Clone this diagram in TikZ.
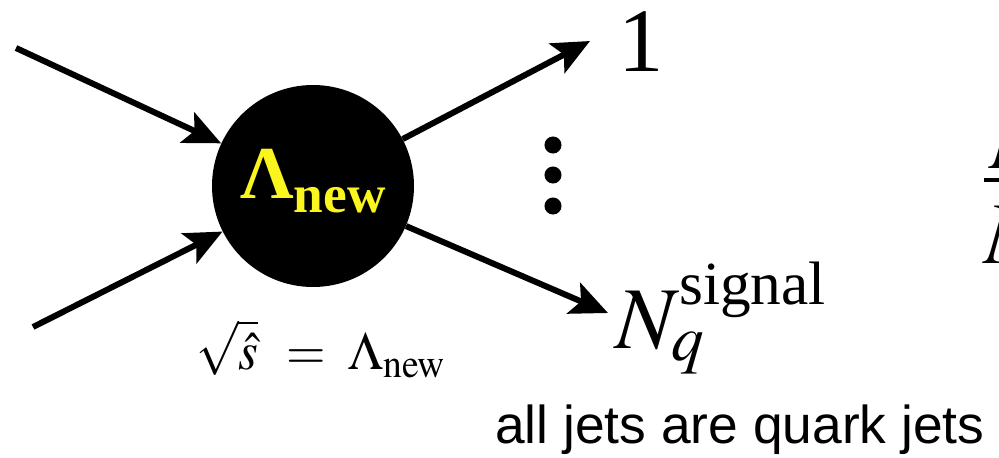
\documentclass[tikz,border=0pt]{standalone}
\usepackage{mathptmx}
\usepackage[no-math]{fontspec}
\setmainfont{Liberation Serif}
\setsansfont{Liberation Sans}
\usetikzlibrary{arrows.meta}
\definecolor{lamyellow}{RGB}{250,245,30}
\tikzset{
  arr/.style={line width=4.5pt, -{Stealth[length=28pt,width=25pt,inset=6pt]}},
  big/.style={inner sep=0pt, font=\fontsize{66}{70}\selectfont},
}

\begin{document}
\begin{tikzpicture}[x=0.75pt,y=-0.75pt]
  \useasboundingbox (0,0) rectangle (999,457);
  % the vertex
  \node[circle, fill=black, minimum size=151.5pt, inner sep=0pt] (blob) at (313,186) {};
  \node[lamyellow, inner sep=0pt, anchor=base west, font=\bfseries\fontsize{56}{60}\selectfont] (lam) at (240,198)
    {Λ\raisebox{-10.5pt}{\fontsize{40}{44}\selectfont new}};
  \node[inner sep=0pt, anchor=base, font=\fontsize{28}{32}\selectfont] (cond) at (321,369)
    {\scalebox{1.36}[1.45]{$\sqrt{\hat{s}}\;\,=\;\Lambda_{\mathrm{new}}$}};
  % incoming
  \coordinate (inA) at (16,48);
  \coordinate (inB) at (33,327);
  \draw[arr] (inA) -- (blob);
  \draw[arr] (inB) -- (blob);
  % outgoing
  \coordinate (outA) at (590,41);
  \coordinate (outB) at (608,313);
  \draw[arr] (blob) -- (outA);
  \draw[arr] (blob) -- (outB);
  \node[inner sep=0pt, anchor=base, font=\fontsize{68}{72}\selectfont] (one) at (641,71) {1};
  \foreach \y in {145,175,206}
    \fill (553,\y) circle (6.4pt);
  \node[big, anchor=base west] (nsig) at (615,348)
    {$N_q^{\raisebox{-7pt}{\fontsize{46}{50}\selectfont signal}}$};
  \node[inner sep=0pt, anchor=base west, font=\sffamily\fontsize{40}{44}\selectfont] (note) at (495,443)
    {all jets are quark jets};
  % cut-off ratio at the edge
  \node[big, anchor=base west] (fracTop) at (990,168) {$N$};
  \node[big, anchor=base west] (fracBot) at (984,263) {$N$};
  \draw[line width=3.5pt] (fracBot.north west |- 0,180) -- (fracBot.north east |- 0,180);
\end{tikzpicture}
\end{document}
